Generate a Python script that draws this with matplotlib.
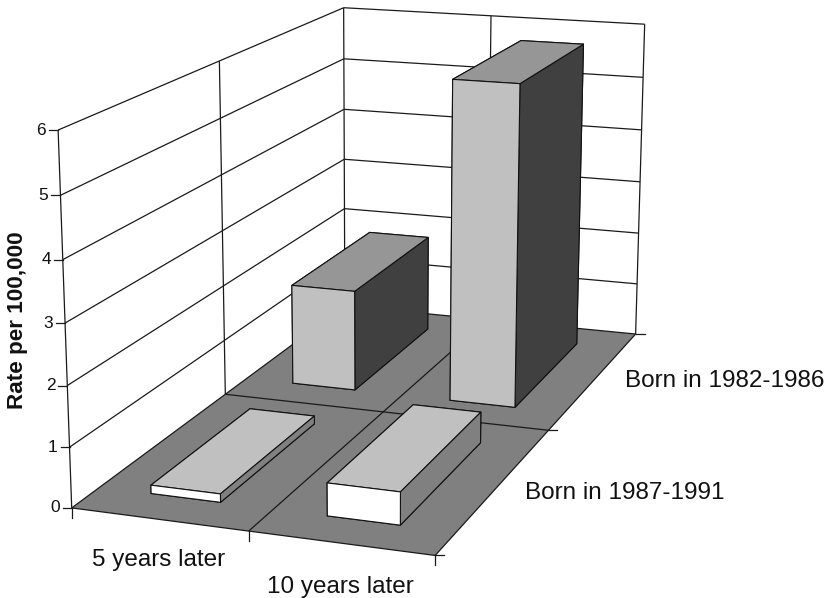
import numpy as np
import matplotlib
matplotlib.use("Agg")
import matplotlib.pyplot as plt
from matplotlib.lines import Line2D
from mpl_toolkits.mplot3d.art3d import Poly3DCollection, Line3DCollection

periods = ["5 years later", "10 years later"]
cohorts = ["Born in 1987-1991", "Born in 1982-1986"]
rate_1987_1991 = [0.14, 0.54]
rate_1982_1986 = [1.83, 5.74]
z_ticks = [0, 1, 2, 3, 4, 5, 6]

W, H = 830, 598
BAR_W = 0.40
BAR_D = 0.67

# camera calibration: (x, y, z) of chart frame -> pixel in the 830x598 picture
frame_world = np.array([
    (0, 0, 0), (1, 0, 0), (2, 0, 0), (0, 1, 0), (1, 1, 0), (2, 1, 0), (0, 2, 0), (2, 2, 0),
    (0, 0, 6), (0, 0, 5), (0, 0, 4), (0, 0, 1), (0, 1, 6), (0, 2, 6), (1, 2, 6), (2, 2, 6),
    (2, 2, 5), (2, 2, 1)], dtype=float)
frame_px = np.array([
    (72, 507), (248.3, 531.7), (435, 557), (225, 392.7), (384, 411), (548.3, 430), (344.5, 309), (635.7, 332.7),
    (58, 130.5), (60.5, 195), (63, 260), (69.5, 447), (219.3, 61), (344, 6.5), (490.7, 15.7), (644.7, 25),
    (643, 77.7), (637.3, 283.3)])


def fit_camera(world, px):
    rows = []
    for (x, y, z), (u, v) in zip(world, px):
        rows.append([x, y, z, 1, 0, 0, 0, 0, -u * x, -u * y, -u * z, -u])
        rows.append([0, 0, 0, 0, x, y, z, 1, -v * x, -v * y, -v * z, -v])
    _, _, vt = np.linalg.svd(np.array(rows))
    cam = vt[-1].reshape(3, 4)
    if cam[2, 3] < 0:
        cam = -cam
    return cam / cam[2, 3]


cam = fit_camera(frame_world, frame_px)


def to_px(x, y, z):
    h = cam @ np.array([x, y, z, 1.0])
    return h[0] / h[2], h[1] / h[2]


fig = plt.figure(figsize=(W / 100, H / 100), dpi=100)
# square 3D axes as wide as the figure, so nothing gets clipped
ax = fig.add_axes([0, -(W - H) / 2 / H, 1, W / H], projection="3d")
ax.set_axis_off()
ax.computed_zorder = False
ax.apply_aspect()

# pixel -> the 2D view coordinates of the 3D axes
(x0, y0), (x1, y1) = ax.transData.inverted().transform([(0, H), (W, 0)])
to_view = np.array([[(x1 - x0) / W, 0, x0], [0, (y1 - y0) / H, y0], [0, 0, 1]])
cam_view = to_view @ cam
proj = np.vstack([cam_view[0], cam_view[1], cam_view[2] - [0, 0, 0, 0.5], cam_view[2]])
ax.get_proj = lambda: proj
ax.M = proj

# floor
floor = Poly3DCollection([[(0, 0, 0), (2, 0, 0), (2, 2, 0), (0, 2, 0)]],
                         facecolors="#808080", edgecolors="none", zorder=1)
ax.add_collection3d(floor)

# wall grid lines
segments = []
for z in z_ticks[1:]:
    segments.append([(0, 0, z), (0, 2, z)])
    segments.append([(0, 2, z), (2, 2, z)])
for x, y in [(0, 0), (0, 1), (0, 2), (1, 2), (2, 2)]:
    segments.append([(x, y, 0), (x, y, z_ticks[-1])])
# floor edges and grid
segments.append([(0, 0, 0), (2, 0, 0)])
segments.append([(2, 0, 0), (2, 2, 0)])
segments.append([(2, 2, 0), (0, 2, 0)])
segments.append([(0, 2, 0), (0, 0, 0)])
segments.append([(1, 0, 0), (1, 2, 0)])
segments.append([(0, 1, 0), (2, 1, 0)])
ax.add_collection3d(Line3DCollection(segments, colors="#1a1a1a", linewidths=0.9, zorder=2))

# bars: bottom, top, front, back, left, right
back_colors = ["#808080", "#969696", "#C0C0C0", "#808080", "#808080", "#404040"]
front_colors = ["#808080", "#C0C0C0", "#FFFFFF", "#808080", "#808080", "#808080"]
order = 3
for row, (rates, colors) in reversed(list(enumerate([(rate_1987_1991, front_colors),
                                                     (rate_1982_1986, back_colors)]))):
    for col, rate in enumerate(rates):
        ax.bar3d(col + 0.5 - BAR_W / 2, row + 0.5 - BAR_D / 2, 0, BAR_W, BAR_D, rate,
                 color=colors, shade=False, edgecolor="#111111", linewidth=0.8, zorder=order)
        order += 1


def tick(x, y, z, dx, dy):
    u, v = to_px(x, y, z)
    fig.add_artist(Line2D([u / W, (u + dx) / W], [1 - v / H, 1 - (v + dy) / H], color="#1a1a1a", lw=0.9))


for z in z_ticks:
    tick(0, 0, z, -9, 0)
    u, v = to_px(0, 0, z)
    fig.text((u - 12) / W, 1 - v / H, str(z), ha="right", va="center", fontsize=12.5,
             family="Liberation Sans", color="#111111")

for x in [0, 1, 2]:
    tick(x, 0, 0, 0, 10)
for y in [0, 1, 2]:
    tick(2, y, 0, 9, 0)

label_kw = dict(va="center", fontsize=17.5, family="Liberation Sans", color="#111111")
fig.text(17 / W, 1 - 320 / H, "Rate per 100,000", rotation=90, ha="center", va="center",
         fontsize=16.2, fontweight="bold", family="Liberation Sans", color="#111111")
fig.text(158.5 / W, 1 - 560 / H, periods[0], ha="center", **label_kw)
fig.text(340 / W, 1 - 587 / H, periods[1], ha="center", **label_kw)
fig.text(625 / W, 1 - 381 / H, cohorts[1], ha="left", **label_kw)
fig.text(525 / W, 1 - 493 / H, cohorts[0], ha="left", **label_kw)

fig.savefig("out.png")
